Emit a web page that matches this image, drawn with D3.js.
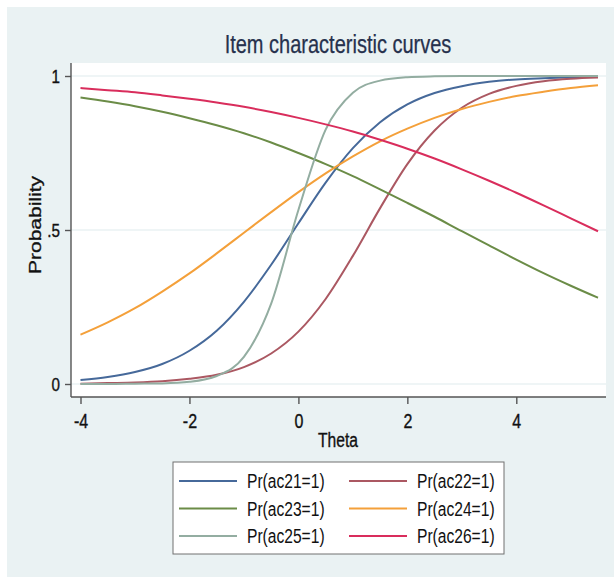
<html lang="en">
<head>
  <meta charset="UTF-8">
  <title>Item characteristic curves</title>
  <script src="https://d3js.org/d3.v7.min.js"></script>
  <style>
    body { margin: 0; background: #ffffff; }
    text { font-family: "Liberation Sans", Arial, sans-serif; }
    .axis path, .axis line { stroke: #555555; stroke-width: 1.4px; }
    .axis text, .label { fill: #111111; stroke: #111111; stroke-width: 0.35px; }
  </style>
</head>
<body>
  <svg id="chart"></svg>
  <script>
    const width = 614;
    const height = 577;

    // theta grid, read every 0.5
    const theta = [-4, -3.5, -3, -2.5, -2, -1.5, -1, -0.5, 0, 0.5, 1, 1.5, 2, 2.5, 3, 3.5, 4, 4.5, 5, 5.5];

    const ac21 = [0.013, 0.023, 0.039, 0.065, 0.108, 0.173, 0.267, 0.387, 0.522, 0.654, 0.766, 0.850, 0.908, 0.945, 0.967, 0.981, 0.989, 0.993, 0.996, 0.998];
    const ac22 = [0.001, 0.003, 0.005, 0.009, 0.017, 0.030, 0.055, 0.099, 0.170, 0.276, 0.416, 0.571, 0.714, 0.823, 0.897, 0.942, 0.968, 0.983, 0.991, 0.995];
    const ac23 = [0.930, 0.917, 0.902, 0.884, 0.863, 0.840, 0.814, 0.784, 0.750, 0.714, 0.675, 0.632, 0.588, 0.543, 0.496, 0.450, 0.404, 0.360, 0.319, 0.280];
    const ac24 = [0.160, 0.200, 0.246, 0.300, 0.359, 0.424, 0.491, 0.558, 0.623, 0.684, 0.739, 0.788, 0.829, 0.864, 0.893, 0.916, 0.935, 0.949, 0.961, 0.970];
    const ac25 = [0.000, 0.000, 0.001, 0.002, 0.007, 0.026, 0.088, 0.261, 0.565, 0.826, 0.946, 0.985, 0.996, 0.999, 1.000, 1.000, 1.000, 1.000, 1.000, 1.000];
    const ac26 = [0.961, 0.954, 0.947, 0.937, 0.926, 0.914, 0.900, 0.883, 0.864, 0.843, 0.820, 0.793, 0.764, 0.732, 0.697, 0.660, 0.621, 0.580, 0.538, 0.496];

    const seriesNames = ["Pr(ac21=1)", "Pr(ac22=1)", "Pr(ac23=1)", "Pr(ac24=1)", "Pr(ac25=1)", "Pr(ac26=1)"];
    const seriesValues = [ac21, ac22, ac23, ac24, ac25, ac26];
    const colors = ["#46699a", "#ab5862", "#6b8c47", "#f4a03a", "#93ada1", "#d92d5c"];

    const xTicks = [-4, -2, 0, 2, 4];
    const yTicks = [0, 0.5, 1];
    const yTickLabels = ["0", ".5", "1"];

    // the original text is set narrow, squeeze glyphs horizontally
    const squeeze = (sel, k) => sel.each(function () {
      const w = this.getComputedTextLength();
      this.setAttribute("textLength", w * k);
      this.setAttribute("lengthAdjust", "spacingAndGlyphs");
    });

    const svg = d3.select("#chart")
      .attr("width", width)
      .attr("height", height);

    // outer panel
    svg.append("rect")
      .attr("x", 7).attr("y", 7)
      .attr("width", width - 7).attr("height", height - 7)
      .attr("fill", "#eaf2f3");

    const plot = { left: 71, right: 606, top: 63, bottom: 397 };

    svg.append("rect")
      .attr("x", plot.left).attr("y", plot.top)
      .attr("width", plot.right - plot.left).attr("height", plot.bottom - plot.top)
      .attr("fill", "#ffffff");

    const x = d3.scaleLinear().domain([-4, 4]).range([80.5, 516.3]);
    const y = d3.scaleLinear().domain([0, 1]).range([384, 76]);

    // gridlines
    svg.append("g")
      .selectAll("line")
      .data(yTicks)
      .join("line")
      .attr("x1", plot.left).attr("x2", plot.right)
      .attr("y1", d => y(d)).attr("y2", d => y(d))
      .attr("stroke", "#eaf2f3")
      .attr("stroke-width", 1.5);

    // curves
    const line = d3.line()
      .x(d => x(d[0]))
      .y(d => y(d[1]))
      .curve(d3.curveMonotoneX);

    svg.append("g")
      .selectAll("path")
      .data(seriesValues)
      .join("path")
      .attr("d", vals => line(theta.map((t, i) => [t, vals[i]])))
      .attr("fill", "none")
      .attr("stroke", (d, i) => colors[i])
      .attr("stroke-width", 2);

    // axes
    const xAxis = svg.append("g")
      .attr("class", "axis")
      .attr("transform", `translate(0, ${plot.bottom})`)
      .call(d3.axisBottom(x).tickValues(xTicks).tickSize(7).tickPadding(10).tickFormat(d => String(d)));
    xAxis.select(".domain").attr("d", `M${plot.left},0H${plot.right}`);
    xAxis.selectAll("text").attr("font-size", 20).call(squeeze, 0.8);

    const yAxis = svg.append("g")
      .attr("class", "axis")
      .attr("transform", `translate(${plot.left}, 0)`)
      .call(d3.axisLeft(y).tickValues(yTicks).tickSize(6).tickPadding(5).tickFormat((d, i) => yTickLabels[i]));
    yAxis.select(".domain").attr("d", `M0,${plot.top}V${plot.bottom}`);
    yAxis.selectAll("text").attr("font-size", 19).call(squeeze, 0.8);

    // titles
    svg.append("text")
      .attr("x", 338).attr("y", 53)
      .attr("text-anchor", "middle")
      .attr("font-size", 25)
      .attr("fill", "#26314d")
      .attr("stroke", "#26314d")
      .attr("stroke-width", 0.25)
      .text("Item characteristic curves")
      .call(squeeze, 0.8);

    svg.append("text")
      .attr("class", "label")
      .attr("x", 338).attr("y", 447)
      .attr("text-anchor", "middle")
      .attr("font-size", 20)
      .text("Theta")
      .call(squeeze, 0.78);

    svg.append("text")
      .attr("class", "label")
      .attr("transform", "translate(41, 225) scale(0.8, 1) rotate(-90)")
      .attr("text-anchor", "middle")
      .attr("font-size", 21)
      .text("Probability");

    // legend
    const legend = svg.append("g");
    legend.append("rect")
      .attr("x", 173).attr("y", 462)
      .attr("width", 331).attr("height", 92)
      .attr("fill", "#ffffff")
      .attr("stroke", "#707070")
      .attr("stroke-width", 1);

    const rowY = [481, 508.5, 536];
    const colX = [179, 349];

    const item = legend.selectAll("g.item")
      .data(seriesNames)
      .join("g")
      .attr("class", "item")
      .attr("transform", (d, i) => `translate(${colX[i % 2]}, ${rowY[Math.floor(i / 2)]})`);

    item.append("line")
      .attr("x1", 0).attr("x2", 58)
      .attr("stroke", (d, i) => colors[i])
      .attr("stroke-width", 2);

    item.append("text")
      .attr("x", 68)
      .attr("dy", "0.36em")
      .attr("font-size", 19.5)
      .attr("fill", "#111111")
      .text(d => d)
      .call(squeeze, 0.8);
  </script>
</body>
</html>
